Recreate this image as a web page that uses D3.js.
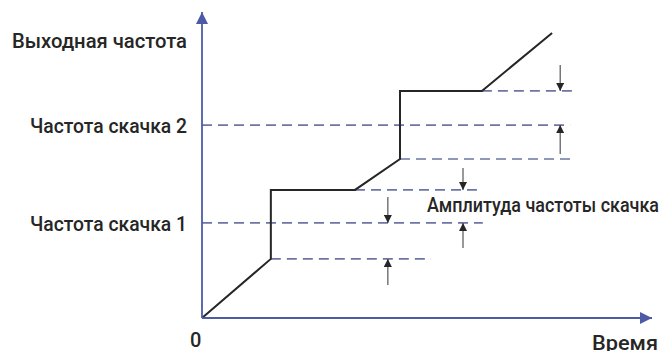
<!DOCTYPE html>
<html><head><meta charset="utf-8">
<script src="https://cdn.jsdelivr.net/npm/d3@7"></script>
<style>html,body{margin:0;padding:0;background:#fff}svg{display:block}</style>
</head><body>
<svg id="c" width="670" height="351"></svg>
<script>
// Data (abstract units: time 0..100, frequency 0..100)
const curveTime = [0, 15.3, 15.3, 34, 44, 44, 62.2, 77.8];
const curveFreq = [0, 19.7, 42.7, 42.7, 53, 75.7, 75.7, 95];
const jumpFreqs = [31.7, 64.3];          // jump frequency 1, 2
const jumpLabels = ["Частота скачка 1", "Частота скачка 2"];
const jumpLineEnd = [62.4, 81.8];
const bandFreqs = [19.7, 42.7, 53, 75.7];
const bandStart = [15.3, 34, 44, 62.2];
const bandEnd = [50.9, 61.1, 82.9, 83.3];
const arrowTime = [79.6, 79.6, 41.3, 41.3, 58, 58];
const arrowFrom = [84.3, 54.7, 40.3, 11.0, 50.0, 23.3];
const arrowTo   = [75.7, 64.3, 31.7, 19.7, 42.7, 31.7];
const yTitle = "Выходная частота";
const xTitle = "Время";
const ampLabel = "Амплитуда частоты скачка";
const originLabel = "0";

const svg = d3.select("#c");
const x = d3.scaleLinear().domain([0, 100]).range([202, 652]);
const y = d3.scaleLinear().domain([0, 100]).range([318, 18]);

const axisColor = "#4d5ba6";
const dashColor = "#6e74a8";
const ink = "#262626";
const font = "Roboto, 'Open Sans', sans-serif";

const defs = svg.append("defs");
defs.append("marker").attr("id","axArrow").attr("viewBox","0 0 10 10")
  .attr("refX",10).attr("refY",5).attr("markerWidth",12).attr("markerHeight",12)
  .attr("markerUnits","userSpaceOnUse").attr("orient","auto")
  .append("path").attr("d","M0,0 L10,5 L0,10 Z").attr("fill",axisColor);
defs.append("marker").attr("id","smArrow").attr("viewBox","0 0 10 10")
  .attr("refX",10).attr("refY",5).attr("markerWidth",9).attr("markerHeight",8)
  .attr("markerUnits","userSpaceOnUse").attr("orient","auto")
  .append("path").attr("d","M0,0 L10,5 L0,10 Z").attr("fill",ink);

// dashed jump-frequency lines
svg.append("g").selectAll("line").data(jumpFreqs).join("line")
  .attr("x1", x(0)).attr("x2", (d,i)=>x(jumpLineEnd[i]))
  .attr("y1", d=>y(d)).attr("y2", d=>y(d))
  .attr("stroke", dashColor).attr("stroke-width",1.6).attr("stroke-dasharray","10,6");
// dashed band lines
svg.append("g").selectAll("line").data(bandFreqs).join("line")
  .attr("x1", (d,i)=>x(bandStart[i])).attr("x2", (d,i)=>x(bandEnd[i]))
  .attr("y1", d=>y(d)).attr("y2", d=>y(d))
  .attr("stroke", dashColor).attr("stroke-width",1.6).attr("stroke-dasharray","10,6");

// output curve
const pts = curveTime.map((t,i)=>[t, curveFreq[i]]);
svg.append("path").datum(pts)
  .attr("d", d3.line().x(d=>x(d[0])).y(d=>y(d[1])))
  .attr("fill","none").attr("stroke",ink).attr("stroke-width",2).attr("stroke-linejoin","miter");

// small arrows
svg.append("g").selectAll("line").data(arrowTime).join("line")
  .attr("x1", d=>x(d)).attr("x2", d=>x(d))
  .attr("y1", (d,i)=>y(arrowFrom[i])).attr("y2", (d,i)=>y(arrowTo[i]))
  .attr("stroke", "#555").attr("stroke-width",1.2).attr("marker-end","url(#smArrow)");

// axes
svg.append("line").attr("x1",x(0)).attr("y1",y(0)).attr("x2",x(0)).attr("y2",y(102))
  .attr("stroke",axisColor).attr("stroke-width",1.8).attr("marker-end","url(#axArrow)");
svg.append("line").attr("x1",x(0)).attr("y1",y(0)).attr("x2",x(100)).attr("y2",y(0))
  .attr("stroke",axisColor).attr("stroke-width",1.8).attr("marker-end","url(#axArrow)");

// texts
function txt(s, xx, yy, size, len, anchor){
  const t = svg.append("text").attr("x",xx).attr("y",yy).text(s)
    .attr("font-family",font).attr("font-size",size).attr("fill",ink)
    .attr("font-weight",500)
    .attr("text-anchor",anchor||"start");
  if(len) t.attr("textLength",len).attr("lengthAdjust","spacingAndGlyphs");
  return t;
}
txt(yTitle, 12, 48, 21, 175);
jumpFreqs.forEach((f,i)=> txt(jumpLabels[i], 30, y(f)+8, 21, 157));
txt(ampLabel, 427, 212, 20, 232);
txt(originLabel, 190, 347, 20);
txt(xTitle, 592, 350, 20, 66);
</script>
</body></html>
